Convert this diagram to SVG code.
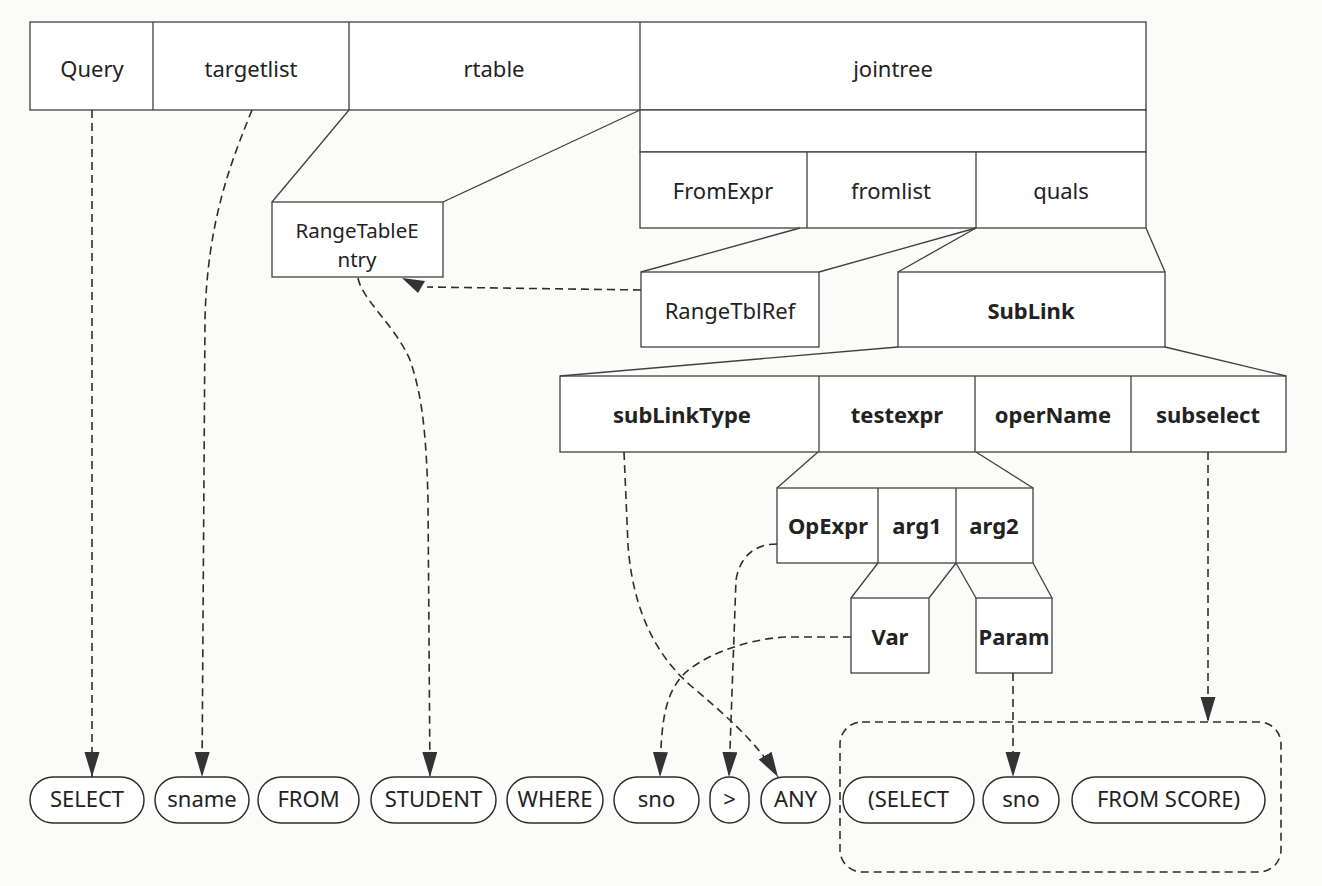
<svg xmlns="http://www.w3.org/2000/svg" width="1322" height="886" viewBox="0 0 1322 886">
<style>
.box{fill:#fff;stroke:#404040;stroke-width:1.3}
.ln{fill:none;stroke:#404040;stroke-width:1.3}
.dash{fill:none;stroke:#2e2e2e;stroke-width:1.6;stroke-dasharray:8 5}
.pill{fill:#fff;stroke:#2e2e2e;stroke-width:1.5}
text{font-family:"Noto Sans","Open Sans","DejaVu Sans",sans-serif;font-size:22px;fill:#222;text-anchor:middle}
.b{font-weight:bold}
.sm{font-size:20.5px}
</style>
<defs>
<marker id="ah" markerUnits="userSpaceOnUse" markerWidth="28" markerHeight="16" refX="25" refY="7.5" orient="auto">
<path d="M0,0 L25,7.5 L0,15 z" fill="#333"/>
</marker>
</defs>
<rect x="0" y="0" width="1322" height="886" fill="#fbfbfa"/>

<g id="query">
<rect class="box" x="30" y="22" width="1116" height="88"/>
<line class="ln" x1="153" y1="22" x2="153" y2="110"/>
<line class="ln" x1="349" y1="22" x2="349" y2="110"/>
<line class="ln" x1="640" y1="22" x2="640" y2="110"/>
<text x="92" y="77">Query</text>
<text x="251" y="77">targetlist</text>
<text x="494" y="77">rtable</text>
<text x="893" y="77">jointree</text>
</g>

<g id="fromexpr">
<rect class="box" x="640" y="110" width="506" height="42"/>
<rect class="box" x="640" y="152" width="506" height="76"/>
<line class="ln" x1="807" y1="152" x2="807" y2="228"/>
<line class="ln" x1="976" y1="152" x2="976" y2="228"/>
<text x="723" y="199">FromExpr</text>
<text x="891" y="199">fromlist</text>
<text x="1061" y="199">quals</text>
</g>

<g id="rte">
<rect class="box" x="272" y="202" width="171" height="75"/>
<text class="sm" x="357" y="238">RangeTableE</text>
<text class="sm" x="357" y="267">ntry</text>
</g>

<g id="rangetblref">
<rect class="box" x="641" y="272" width="178" height="75"/>
<text x="730" y="319">RangeTblRef</text>
</g>

<g id="sublink">
<rect class="box" x="898" y="272" width="267" height="75"/>
<text class="b" x="1031" y="319">SubLink</text>
</g>

<g id="sublinkfields">
<rect class="box" x="560" y="376" width="726" height="76"/>
<line class="ln" x1="819" y1="376" x2="819" y2="452"/>
<line class="ln" x1="975" y1="376" x2="975" y2="452"/>
<line class="ln" x1="1131" y1="376" x2="1131" y2="452"/>
<text class="b" x="682" y="423">subLinkType</text>
<text class="b" x="897" y="423">testexpr</text>
<text class="b" x="1053" y="423">operName</text>
<text class="b" x="1208" y="423">subselect</text>
</g>

<g id="opexpr">
<rect class="box" x="777" y="488" width="256" height="75"/>
<line class="ln" x1="878" y1="488" x2="878" y2="563"/>
<line class="ln" x1="956" y1="488" x2="956" y2="563"/>
<text class="b" x="828" y="534">OpExpr</text>
<text class="b" x="917" y="534">arg1</text>
<text class="b" x="994" y="534">arg2</text>
</g>

<g id="var">
<rect class="box" x="851" y="598" width="78" height="75"/>
<text class="b" x="890" y="645">Var</text>
</g>

<g id="param">
<rect class="box" x="976" y="598" width="76" height="75"/>
<text class="b" x="1014" y="645">Param</text>
</g>

<g id="tokens">
<rect class="pill" x="30" y="777" width="114" height="46" rx="23"/><text x="87" y="807">SELECT</text>
<rect class="pill" x="155" y="777" width="94" height="46" rx="23"/><text x="202" y="807">sname</text>
<rect class="pill" x="258" y="777" width="101" height="46" rx="23"/><text x="308.5" y="807">FROM</text>
<rect class="pill" x="371" y="777" width="125" height="46" rx="23"/><text x="433.5" y="807">STUDENT</text>
<rect class="pill" x="507" y="777" width="96" height="46" rx="23"/><text x="555" y="807">WHERE</text>
<rect class="pill" x="614" y="777" width="85" height="46" rx="23"/><text x="656.5" y="807">sno</text>
<rect class="pill" x="710" y="777" width="39" height="46" rx="19.5"/><text x="729.5" y="807">&gt;</text>
<rect class="pill" x="761" y="777" width="69" height="46" rx="23"/><text x="795.5" y="807">ANY</text>
</g>

<g id="subquery">
<rect class="dash" x="840" y="722" width="441" height="150" rx="22"/>
<rect class="pill" x="843" y="777" width="131" height="46" rx="23"/><text x="908.5" y="807">(SELECT</text>
<rect class="pill" x="983" y="777" width="76" height="46" rx="23"/><text x="1021" y="807">sno</text>
<rect class="pill" x="1072" y="777" width="193" height="46" rx="23"/><text x="1168.5" y="807">FROM SCORE)</text>
</g>

<g id="connectors">
<line class="ln" x1="349" y1="110" x2="272" y2="202"/>
<line class="ln" x1="640" y1="110" x2="443" y2="202"/>
<line class="ln" x1="800" y1="228" x2="641" y2="272"/>
<line class="ln" x1="976" y1="228" x2="819" y2="272"/>
<line class="ln" x1="976" y1="228" x2="898" y2="272"/>
<line class="ln" x1="1146" y1="228" x2="1165" y2="272"/>
<line class="ln" x1="898" y1="347" x2="560" y2="376"/>
<line class="ln" x1="1165" y1="347" x2="1286" y2="376"/>
<line class="ln" x1="818" y1="452" x2="777" y2="488"/>
<line class="ln" x1="976" y1="452" x2="1033" y2="488"/>
<line class="ln" x1="878" y1="563" x2="851" y2="598"/>
<line class="ln" x1="956" y1="563" x2="929" y2="598"/>
<line class="ln" x1="956" y1="563" x2="976" y2="598"/>
<line class="ln" x1="1033" y1="563" x2="1052" y2="598"/>

<path class="dash" d="M92,110 L92,777" marker-end="url(#ah)"/>
<path class="dash" d="M252,110 C232,160 207,220 205,320 L202,777" marker-end="url(#ah)"/>
<path class="dash" d="M358,278 C362,300 395,325 410,360 C420,390 426,420 428,500 L430,777" marker-end="url(#ah)"/>
<path class="dash" d="M641,290 L427,287"/>
<polygon points="402,278 425,281 418,293" fill="#333"/>
<path class="dash" d="M624,452 L628,545 C632,600 650,650 690,685 C725,715 757,742 778,777" marker-end="url(#ah)"/>
<path class="dash" d="M777,544 C755,544 740,556 736,580 L729,777" marker-end="url(#ah)"/>
<path class="dash" d="M851,637 L785,637 C740,640 700,658 683,675 C665,695 661,720 660,777" marker-end="url(#ah)"/>
<path class="dash" d="M1013,673 L1013,777" marker-end="url(#ah)"/>
<path class="dash" d="M1208,452 L1208,722" marker-end="url(#ah)"/>
</g>
</svg>
